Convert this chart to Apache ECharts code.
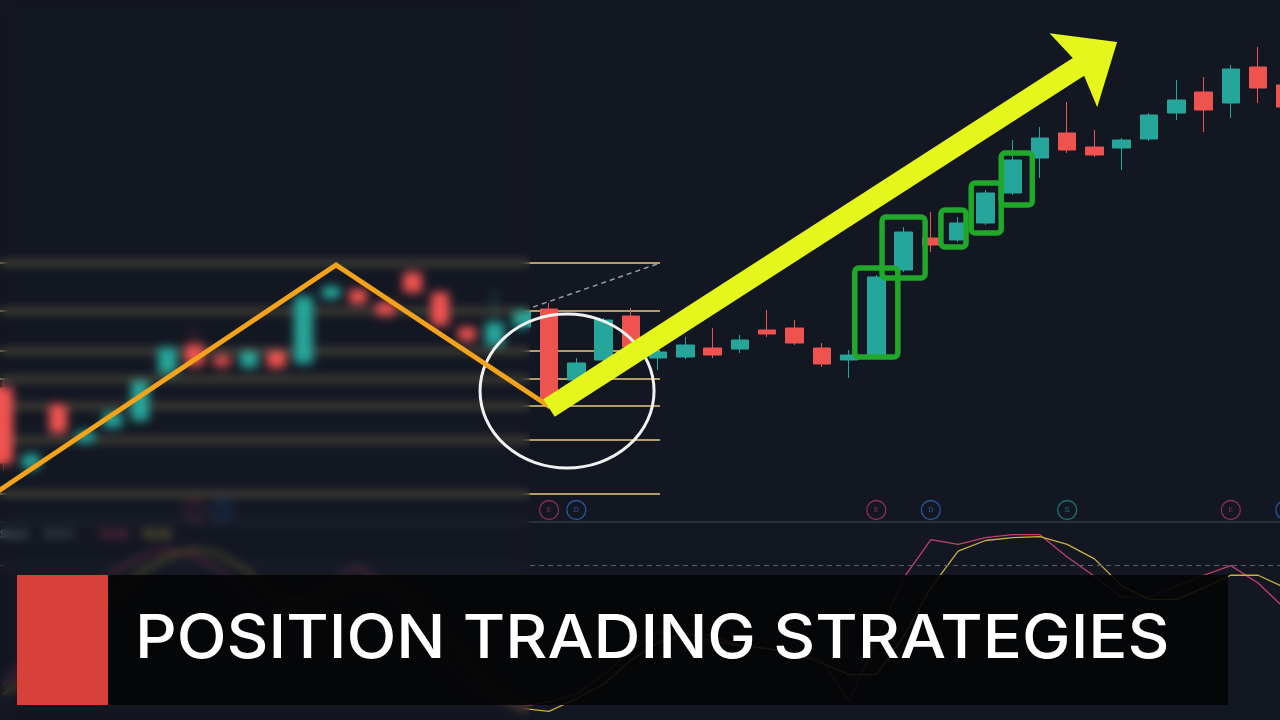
<!DOCTYPE html>
<html><head><meta charset="utf-8">
<script src="https://cdn.jsdelivr.net/npm/echarts@6/dist/echarts.min.js"></script>
<style>
html,body{margin:0;padding:0;background:#131722;}
#wrap{position:relative;width:1280px;height:720px;overflow:hidden;}
#base,#over{position:absolute;left:-10px;top:0;width:1309px;height:720px;}
#blur{position:absolute;left:0;top:0;width:530px;height:720px;backdrop-filter:blur(5px);-webkit-backdrop-filter:blur(5px);}
</style></head><body>
<div id="wrap"><div id="base"></div><div id="blur"></div><div id="over"></div></div>
<script>
// ---- data (price units on an arbitrary scale) ----
const categories = ['W01','W02','W03','W04','W05','W06','W07','W08','W09','W10','W11','W12','W13','W14','W15','W16','W17','W18','W19','W20','W21','W22','W23','W24','W25','W26','W27','W28','W29','W30','W31','W32','W33','W34','W35','W36','W37','W38','W39','W40','W41','W42','W43','W44','W45','W46','W47','W48'];
const opens  = [332,252,315,278,293,300,347,375,363,353,368,357,422,430,417,447,427,392,375,393,411,340,360,404,362,363,372,371,390,392,372,360,365,450,482,480,497,527,562,587,573,572,581,607,628,617,653,635];
const closes = [257,265,288,288,307,338,372,355,355,368,353,423,433,417,405,428,395,380,397,408,320,357,400,373,368,375,365,380,386,377,356,365,443,488,475,497,527,560,582,570,565,580,605,620,610,651,632,613];
const lows   = [250,245,283,274,290,296,343,350,345,350,350,354,420,414,402,425,392,377,372,390,318,338,358,370,350,361,362,367,383,375,353,342,363,448,468,478,495,525,542,567,563,550,579,600,588,602,617,605];
const highs  = [340,270,320,292,310,342,376,390,368,371,371,428,436,433,420,450,430,395,430,412,417,362,402,412,370,383,392,385,410,400,377,370,445,493,508,503,530,580,593,618,590,582,607,640,643,655,673,640];
// stochastic oscillator (0-100)
const stochK = [18.5,33.5,48.5,63.5,76,84.5,88.5,85.5,76,63.5,53.5,63.5,71,79.5,68.5,53.5,33.5,18.5,11,7,9.5,13.5,23.5,36,45.5,47,43.5,38.5,37,34.5,31,9.5,41,73.5,93.5,91,94.5,96,96,84.5,74.5,63.5,63.5,69.5,75,80,71,57.5];
const stochD = [13.5,23.5,36,48.5,63.5,76,84.5,88.5,85.5,76,63.5,58.5,63.5,71,71,63.5,48.5,31,16,6,4.5,11,18.5,31,40,45,41,38.5,37,34.5,29.5,23.5,23.5,43.5,68.5,87.5,93,94.5,95,91,83.5,69.5,62.5,62.5,68.5,75,75,68.5];
const stochUpper = 80;
// retracement levels (price) and the bar range they span
const fibLevels = [457,409,369,341,314,280,226];
const fibSpan = [-0.5, 24.07];
const dashedTrend = [[19.42,413],[24.07,457]];
// event markers: [bar index, type]
const events = [[7,'E'],[8,'D'],[20,'E'],[21,'D'],[32,'E'],[34,'D'],[39,'S'],[45,'E'],[47,'D']];
const eventLevel = 210;
const separatorLevel = 198;
// annotations
const zigzag = [[-0.3,227],[12.19,455],[20.04,313]];
const circleCenter = [20.66,329];
const arrowFrom = [20.0,312];
const arrowTo = [40.83,678];
// green boxes: [center bar, low, high, half width in bars]
const boxes = [[32,363,452,0.79],[33,442,503,0.79],[34.83,473,510,0.46],[36.03,487,537,0.55],[37.15,515,567,0.57]];
const title = 'POSITION TRADING STRATEGIES';
const legendTexts = ['Stoch','14 3 3','96.00','95.00'];

const OFF = 10; // chart containers start 10px left of the page
const GRID = {left:0, right:0, top:0, bottom:0};

// ---- base chart ----
const base = echarts.init(document.getElementById('base'), null, {renderer:'canvas'});
const candleData = opens.map((o,i)=>[o, closes[i], lows[i], highs[i]]);
const markerColors = {E:'#a8345a', D:'#2c68b8', S:'#23877f'};
base.setOption({
  backgroundColor:'#131722',
  animation:false,
  grid:[Object.assign({},GRID), {left:0, right:0, top:527, height:200}],
  xAxis:[
    {type:'category', data:categories, gridIndex:0, show:false, boundaryGap:true},
    {type:'value', gridIndex:0, min:-0.5, max:47.5, show:false},
    {type:'category', data:categories, gridIndex:1, show:false, boundaryGap:true}
  ],
  yAxis:[
    {type:'value', gridIndex:0, min:0, max:720, show:false},
    {type:'value', gridIndex:1, min:0, max:100, show:false}
  ],
  graphic:[
    {type:'text', x:OFF+0, y:530, style:{text:legendTexts[0], fill:'#8a8f9c', font:'11px Roboto'}},
    {type:'text', x:OFF+43, y:530, style:{text:legendTexts[1], fill:'#8a8f9c', font:'11px Roboto'}},
    {type:'text', x:OFF+100, y:530, style:{text:legendTexts[2], fill:'#c43c5c', font:'11px Roboto'}},
    {type:'text', x:OFF+143, y:530, style:{text:legendTexts[3], fill:'#c9b040', font:'11px Roboto'}}
  ],
  series:[
    {type:'custom', name:'levels', xAxisIndex:1, yAxisIndex:0, silent:true, z:1,
      data: fibLevels.map(v=>[fibSpan[0], v, fibSpan[1]]),
      encode:{x:[0,2], y:1},
      renderItem:(p, api)=>{
        const a = api.coord([api.value(0), api.value(1)]);
        const b = api.coord([api.value(2), api.value(1)]);
        return {type:'line', shape:{x1:a[0], y1:a[1], x2:b[0], y2:b[1]}, style:{stroke:'#b39d66', lineWidth:2}};
      }},
    {type:'line', xAxisIndex:1, yAxisIndex:0, data:dashedTrend, symbol:'none', silent:true, z:1,
      lineStyle:{color:'#9a9ca3', width:1.5, type:[5,4]}},
    {type:'candlestick', name:'price', xAxisIndex:0, yAxisIndex:0, data:candleData, barWidth:18, z:2,
      itemStyle:{color:'#26a69a', color0:'#ef5350', borderColor:'#26a69a', borderColor0:'#ef5350', borderWidth:1}},
    {type:'line', xAxisIndex:1, yAxisIndex:0, data:[[-0.5,separatorLevel],[47.5,separatorLevel]], symbol:'none', silent:true,
      lineStyle:{color:'#464a55', width:1}},
    {type:'scatter', xAxisIndex:1, yAxisIndex:0, symbol:'circle', symbolSize:19, silent:true, z:3,
      data: events.map(e=>({value:[e[0], eventLevel, e[1]],
        itemStyle:{color:'rgba(0,0,0,0)', borderColor:markerColors[e[1]], borderWidth:1.3},
        label:{color:markerColors[e[1]]}})),
      label:{show:true, position:'inside', formatter:p=>p.value[2], fontSize:8, fontFamily:'Roboto'}},
    {type:'line', name:'%K', xAxisIndex:2, yAxisIndex:1, data:stochK, symbol:'none', silent:true,
      lineStyle:{color:'#c2406a', width:1.3},
      markLine:{silent:true, symbol:'none', label:{show:false}, data:[{yAxis:stochUpper}],
        lineStyle:{color:'#5a5f6b', type:[5,4], width:1}}},
    {type:'line', name:'%D', xAxisIndex:2, yAxisIndex:1, data:stochD, symbol:'none', silent:true,
      lineStyle:{color:'#c8b23e', width:1.3}}
  ]
});

// ---- annotation overlay ----
const over = echarts.init(document.getElementById('over'), null, {renderer:'canvas'});
over.setOption({
  backgroundColor:'transparent',
  animation:false,
  grid:Object.assign({},GRID),
  xAxis:{type:'value', min:-0.5, max:47.5, show:false},
  yAxis:{type:'value', min:0, max:720, show:false},
  graphic:[
    {type:'rect', shape:{x:OFF+108, y:575, width:1120, height:130}, style:{fill:'rgba(4,4,6,0.9)'}, z:100},
    {type:'rect', shape:{x:OFF+17, y:575, width:91, height:130}, style:{fill:'#d8403a'}, z:100},
    {type:'text', x:OFF+135, y:640, scaleX:1.066, z:101, style:{text:title, fill:'#ffffff', fontSize:61, fontFamily:'Inter', fontWeight:500, verticalAlign:'middle'}}
  ],
  series:[
    {type:'custom', silent:true, z:2, clip:false,
      data:[circleCenter], encode:{x:0, y:1},
      renderItem:(p, api)=>{
        const c = api.coord([api.value(0), api.value(1)]);
        const rx = 87, ry = 77;
        return {type:'path', shape:{pathData:`M ${c[0]-rx} ${c[1]} A ${rx} ${ry} 0 1 0 ${c[0]+rx} ${c[1]} A ${rx} ${ry} 0 1 0 ${c[0]-rx} ${c[1]} Z`},
          style:{fill:'none', stroke:'#f2f2f2', lineWidth:3}};
      }},
    {type:'line', data:zigzag, symbol:'none', silent:true, z:3,
      lineStyle:{color:'#f2a31b', width:5, join:'miter'}},
    {type:'custom', silent:true, z:3, clip:false,
      data:boxes, encode:{x:0, y:[1,2]},
      renderItem:(p, api)=>{
        const cx = api.value(0), lo = api.value(1), hi = api.value(2), hw = api.value(3);
        const a = api.coord([cx-hw, hi]);
        const b = api.coord([cx+hw, lo]);
        return {type:'rect', shape:{x:a[0], y:a[1], width:b[0]-a[0], height:b[1]-a[1], r:4},
          style:{fill:'none', stroke:'#20a82b', lineWidth:5.5}};
      }},
    {type:'custom', silent:true, z:4, clip:false,
      data:[[arrowFrom[0], arrowFrom[1], arrowTo[0], arrowTo[1]]], encode:{x:[0,2], y:[1,3]},
      renderItem:(p, api)=>{
        const a = api.coord([api.value(0), api.value(1)]);
        const b = api.coord([api.value(2), api.value(3)]);
        const dx = b[0]-a[0], dy = b[1]-a[1], L = Math.hypot(dx,dy);
        const ux = dx/L, uy = dy/L, nx = -uy, ny = ux;
        const headLen = 52, headHalf = 44, sh = 10.5, notch = 6;
        const bx = b[0]-ux*headLen, by = b[1]-uy*headLen;
        const nbx = bx+ux*notch, nby = by+uy*notch;
        const pts = [
          [a[0]+nx*sh, a[1]+ny*sh],
          [nbx+nx*sh, nby+ny*sh],
          [bx+nx*headHalf, by+ny*headHalf],
          [b[0], b[1]],
          [bx-nx*headHalf, by-ny*headHalf],
          [nbx-nx*sh, nby-ny*sh],
          [a[0]-nx*sh, a[1]-ny*sh]
        ];
        return {type:'polygon', shape:{points:pts}, style:{fill:'#e4f61c'}};
      }}
  ]
});
</script>
</body></html>
